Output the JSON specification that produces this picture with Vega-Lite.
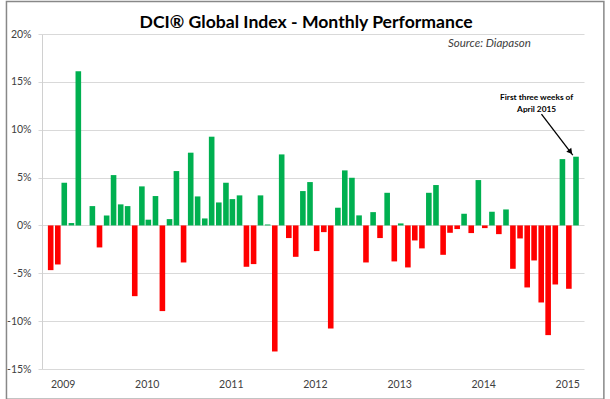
{
  "$schema": "https://vega.github.io/schema/vega-lite/v6.json",
  "width": 542,
  "height": 335,
  "autosize": {"type": "none"},
  "padding": {"left": 42, "top": 34, "right": 26, "bottom": 30},
  "background": "white",
  "config": {"view": {"stroke": null}, "font": "Lato"},
  "datasets": {
    "perf": [
      {"month": "2009-01-01", "v": -4.67}, {"month": "2009-02-01", "v": -4.08}, {"month": "2009-03-01", "v": 4.46}, {"month": "2009-04-01", "v": 0.25},
      {"month": "2009-05-01", "v": 16.1}, {"month": "2009-06-01", "v": 0.0}, {"month": "2009-07-01", "v": 2.02}, {"month": "2009-08-01", "v": -2.3},
      {"month": "2009-09-01", "v": 1.05}, {"month": "2009-10-01", "v": 5.26}, {"month": "2009-11-01", "v": 2.2}, {"month": "2009-12-01", "v": 2.02},
      {"month": "2010-01-01", "v": -7.39}, {"month": "2010-02-01", "v": 4.08}, {"month": "2010-03-01", "v": 0.6}, {"month": "2010-04-01", "v": 3.07},
      {"month": "2010-05-01", "v": -8.95}, {"month": "2010-06-01", "v": 0.66}, {"month": "2010-07-01", "v": 5.68}, {"month": "2010-08-01", "v": -3.87},
      {"month": "2010-09-01", "v": 7.6}, {"month": "2010-10-01", "v": 3.03}, {"month": "2010-11-01", "v": 0.73}, {"month": "2010-12-01", "v": 9.27},
      {"month": "2011-01-01", "v": 2.4}, {"month": "2011-02-01", "v": 4.46}, {"month": "2011-03-01", "v": 2.75}, {"month": "2011-04-01", "v": 3.14},
      {"month": "2011-05-01", "v": -4.32}, {"month": "2011-06-01", "v": -4.04}, {"month": "2011-07-01", "v": 3.14}, {"month": "2011-08-01", "v": 0.1},
      {"month": "2011-09-01", "v": -13.17}, {"month": "2011-10-01", "v": 7.42}, {"month": "2011-11-01", "v": -1.32}, {"month": "2011-12-01", "v": -3.28},
      {"month": "2012-01-01", "v": 3.59}, {"month": "2012-02-01", "v": 4.53}, {"month": "2012-03-01", "v": -2.68}, {"month": "2012-04-01", "v": -0.7},
      {"month": "2012-05-01", "v": -10.77}, {"month": "2012-06-01", "v": 1.85}, {"month": "2012-07-01", "v": 5.75}, {"month": "2012-08-01", "v": 4.98},
      {"month": "2012-09-01", "v": 1.05}, {"month": "2012-10-01", "v": -3.87}, {"month": "2012-11-01", "v": 1.39}, {"month": "2012-12-01", "v": -1.32},
      {"month": "2013-01-01", "v": 3.41}, {"month": "2013-02-01", "v": -3.76}, {"month": "2013-03-01", "v": 0.21}, {"month": "2013-04-01", "v": -4.39},
      {"month": "2013-05-01", "v": -1.57}, {"month": "2013-06-01", "v": -2.4}, {"month": "2013-07-01", "v": 3.41}, {"month": "2013-08-01", "v": 4.22},
      {"month": "2013-09-01", "v": -3.07}, {"month": "2013-10-01", "v": -0.77}, {"month": "2013-11-01", "v": -0.38}, {"month": "2013-12-01", "v": 1.22},
      {"month": "2014-01-01", "v": -0.8}, {"month": "2014-02-01", "v": 4.74}, {"month": "2014-03-01", "v": -0.28}, {"month": "2014-04-01", "v": 1.43},
      {"month": "2014-05-01", "v": -0.91}, {"month": "2014-06-01", "v": 1.67}, {"month": "2014-07-01", "v": -4.53}, {"month": "2014-08-01", "v": -1.36},
      {"month": "2014-09-01", "v": -6.48}, {"month": "2014-10-01", "v": -3.66}, {"month": "2014-11-01", "v": -8.05}, {"month": "2014-12-01", "v": -11.46},
      {"month": "2015-01-01", "v": -6.17}, {"month": "2015-02-01", "v": 6.93}, {"month": "2015-03-01", "v": -6.62}, {"month": "2015-04-01", "v": 7.18}
    ],
    "one": [{}]
  },
  "layer": [
    {
      "data": {"name": "perf"},
      "mark": {"type": "bar", "width": 5.6},
      "encoding": {
        "x": {
          "field": "month", "type": "temporal",
          "scale": {"type": "utc", "domain": [{"year": 2008, "month": 12, "date": 16, "utc": true}, {"year": 2015, "month": 4, "date": 14, "utc": true}]},
          "axis": {
            "title": null,
            "values": [
              {"year": 2009, "month": 1, "date": 1, "utc": true}, {"year": 2010, "month": 1, "date": 1, "utc": true},
              {"year": 2011, "month": 1, "date": 1, "utc": true}, {"year": 2012, "month": 1, "date": 1, "utc": true},
              {"year": 2013, "month": 1, "date": 1, "utc": true}, {"year": 2014, "month": 1, "date": 1, "utc": true},
              {"year": 2015, "month": 1, "date": 1, "utc": true}
            ],
            "labelExpr": "utcFormat(datum.value, '%Y')",
            "ticks": false, "domain": false, "grid": false,
            "labelOffset": 12, "labelPadding": 10,
            "labelFont": "Lato", "labelFontSize": 10.5, "labelColor": "#404040"
          }
        },
        "y": {
          "field": "v", "type": "quantitative",
          "scale": {"domain": [-15, 20], "nice": false, "zero": false},
          "axis": {
            "title": null,
            "values": [-15, -10, -5, 0, 5, 10, 15, 20],
            "labelExpr": "datum.value + '%'",
            "grid": true, "gridColor": "#d9d9d9", "gridWidth": 1,
            "domain": true, "domainColor": "#d0d0d0",
            "ticks": true, "tickSize": 4, "tickColor": "#d9d9d9",
            "labelPadding": 7,
            "labelFont": "Lato", "labelFontSize": 10.5, "labelColor": "#404040"
          }
        },
        "color": {"condition": {"test": "datum.v >= 0", "value": "#00B050"}, "value": "#FF0000"}
      }
    },
    {
      "data": {"name": "one"},
      "mark": {"type": "text", "font": "Lato", "fontWeight": "bold", "fontSize": 17.6, "color": "#000000", "align": "center", "baseline": "alphabetic", "clip": false},
      "encoding": {
        "x": {"datum": {"year": 2012, "month": 1, "date": 15, "utc": true}, "type": "temporal"},
        "y": {"datum": 20.6, "type": "quantitative"},
        "text": {"value": "DCI® Global Index - Monthly Performance"}
      }
    },
    {
      "data": {"name": "one"},
      "mark": {"type": "text", "font": "Lato", "fontStyle": "italic", "fontSize": 11.5, "color": "#404040", "align": "center", "baseline": "alphabetic"},
      "encoding": {
        "x": {"datum": {"year": 2014, "month": 3, "date": 21, "utc": true}, "type": "temporal"},
        "y": {"datum": 18.63, "type": "quantitative"},
        "text": {"value": "Source: Diapason"}
      }
    },
    {
      "data": {"name": "one"},
      "mark": {"type": "text", "font": "Lato", "fontWeight": "bold", "fontSize": 8.3, "color": "#000000", "align": "center", "baseline": "alphabetic", "lineHeight": 11.7},
      "encoding": {
        "x": {"datum": {"year": 2014, "month": 10, "date": 12, "utc": true}, "type": "temporal"},
        "y": {"datum": 13.09, "type": "quantitative"},
        "text": {"value": ["First three weeks of", "April 2015"]}
      }
    },
    {
      "data": {"name": "one"},
      "mark": {"type": "rule", "color": "#000000", "strokeWidth": 1.3},
      "encoding": {
        "x": {"datum": {"year": 2014, "month": 11, "date": 2, "utc": true}, "type": "temporal"},
        "y": {"datum": 11.63, "type": "quantitative"},
        "x2": {"datum": {"year": 2015, "month": 3, "date": 18, "utc": true}},
        "y2": {"datum": 7.35}
      }
    },
    {
      "data": {"name": "one"},
      "mark": {"type": "point", "shape": "triangle-up", "filled": true, "color": "#000000", "size": 40, "angle": 142, "opacity": 1},
      "encoding": {
        "x": {"datum": {"year": 2015, "month": 3, "date": 8, "utc": true}, "type": "temporal"},
        "y": {"datum": 7.68, "type": "quantitative"}
      }
    },
    {
      "data": {"name": "one"},
      "mark": {"type": "rect", "fill": null, "fillOpacity": 0, "stroke": "#888888", "strokeWidth": 1.5, "clip": false},
      "encoding": {
        "x": {"datum": {"year": 2008, "month": 6, "date": 23, "utc": true}, "type": "temporal"},
        "x2": {"datum": {"year": 2015, "month": 7, "date": 31, "utc": true}},
        "y": {"datum": 23.39, "type": "quantitative"},
        "y2": {"datum": -18.15}
      }
    }
  ]
}
